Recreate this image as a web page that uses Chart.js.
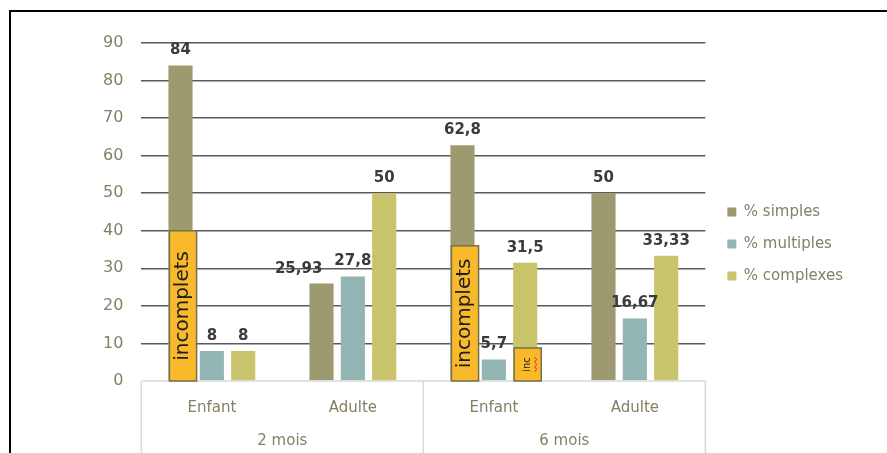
<!DOCTYPE html>
<html><head><meta charset="utf-8">
<script src="https://cdn.jsdelivr.net/npm/chart.js@4.4.1/dist/chart.umd.min.js"></script>
<style>
html,body{margin:0;padding:0;background:#fff;overflow:hidden;}
#wrap{position:relative;width:887px;height:453px;}
#frame{position:absolute;left:9px;top:10px;right:-5px;bottom:-5px;border-left:2px solid #000;border-top:2px solid #000;pointer-events:none;}
canvas{position:absolute;left:0;top:0;}
</style></head><body>
<div id="wrap"><canvas id="c" width="887" height="453"></canvas><div id="frame"></div></div>
<script>
// ---- data ----
const categories = ['Enfant', 'Adulte', 'Enfant', 'Adulte'];
const groups = ['2 mois', '6 mois'];
const seriesNames = ['% simples', '% multiples', '% complexes'];
const simples = [84, 25.93, 62.8, 50];
const multiples = [8, 27.8, 5.7, 16.67];
const complexes = [8, 50, 31.5, 33.33];
const incompletsSimples = [40, null, 36, null];
const incompletsComplexes = [null, null, 8.8, null];
const yMin = 0, yMax = 90, yStep = 10;

// ---- styles ----
const FONT = 'DejaVu Sans';
const axisColor = '#857f64';
const colors = ['#9d9a6f', '#93b5b4', '#c9c46b'];
const boxFill = '#f8b92b', boxStroke = '#74704f';
const labelColor = '#3b3b3b';

const fmt = v => String(v).replace('.', ',');

const overlay = {
  id: 'overlay',
  afterDatasetsDraw(chart) {
    const ctx = chart.ctx, ca = chart.chartArea;
    const xs = chart.scales.x, ys = chart.scales.y;
    // category box lines
    ctx.save();
    ctx.strokeStyle = '#d9d9d9'; ctx.lineWidth = 1.5;
    ctx.beginPath();
    ctx.moveTo(ca.left, ca.bottom); ctx.lineTo(ca.right, ca.bottom);
    const mid = (xs.getPixelForValue(1) + xs.getPixelForValue(2)) / 2;
    [ca.left, mid, ca.right].forEach(x => { ctx.moveTo(x, ca.bottom); ctx.lineTo(x, chart.height); });
    ctx.stroke();
    ctx.restore();

    // "incomplets" boxes
    const drawBox = (dsIndex, arr, text, size, squiggle) => {
      const meta = chart.getDatasetMeta(dsIndex);
      arr.forEach((v, i) => {
        if (v == null) return;
        const bar = meta.data[i];
        const l = bar.x - bar.width / 2 + 1, r = bar.x + bar.width / 2 + 4;
        const t = ys.getPixelForValue(v), b = ys.getPixelForValue(0);
        ctx.save();
        ctx.fillStyle = boxFill; ctx.strokeStyle = boxStroke; ctx.lineWidth = 1.5;
        ctx.fillRect(l, t, r - l, b - t); ctx.strokeRect(l, t, r - l, b - t);
        ctx.translate((l + r) / 2, (t + b) / 2);
        ctx.rotate(-Math.PI / 2);
        ctx.fillStyle = '#1e1e1e';
        ctx.font = size + 'px "' + FONT + '"';
        ctx.textAlign = 'center'; ctx.textBaseline = 'middle';
        ctx.fillText(text, 0, 0);
        if (squiggle) {
          const w = ctx.measureText(text).width;
          ctx.strokeStyle = '#e02020'; ctx.lineWidth = 1;
          ctx.beginPath();
          for (let k = 0; k <= 6; k++) {
            const xx = -w / 2 + k * w / 6, yy = 7 + (k % 2 ? 2 : 0);
            k ? ctx.lineTo(xx, yy) : ctx.moveTo(xx, yy);
          }
          ctx.stroke();
        }
        ctx.restore();
      });
    };
    drawBox(0, incompletsSimples, 'incomplets', 20, false);
    drawBox(2, incompletsComplexes, 'inc', 10, true);

    // value labels
    ctx.save();
    ctx.font = 'bold 15px "' + FONT + '"';
    ctx.fillStyle = labelColor;
    ctx.textAlign = 'center'; ctx.textBaseline = 'middle';
    const labels = [];
    chart.data.datasets.forEach((ds, di) => {
      const meta = chart.getDatasetMeta(di);
      ds.data.forEach((v, i) => {
        const bar = meta.data[i];
        const text = fmt(v);
        const w = ctx.measureText(text).width;
        labels.push({di, i, text, w, x: bar.x, y: bar.y - 15});
      });
    });
    // simple collision avoidance within a category: shift the left label left
    for (let i = 0; i < categories.length; i++) {
      const row = labels.filter(l => l.i === i).sort((a, b) => b.di - a.di);
      for (let k = 1; k < row.length; k++) {
        const cur = row[k], right = row[k - 1];
        if (Math.abs(cur.y - right.y) < 16) {
          const overlapR = cur.x + cur.w / 2, leftEdge = right.x - right.w / 2 - 12;
          if (overlapR > leftEdge) cur.x -= (overlapR - leftEdge);
        }
      }
    }
    labels.forEach(l => ctx.fillText(l.text, l.x, l.y));
    ctx.restore();
  }
};

new Chart(document.getElementById('c'), {
  type: 'bar',
  data: {
    labels: categories,
    datasets: [
      {label: seriesNames[0], data: simples, backgroundColor: colors[0]},
      {label: seriesNames[1], data: multiples, backgroundColor: colors[1]},
      {label: seriesNames[2], data: complexes, backgroundColor: colors[2]}
    ]
  },
  options: {
    responsive: false,
    animation: false,
    devicePixelRatio: 1,
    categoryPercentage: 0.667,
    barPercentage: 0.77,
    layout: {padding: {top: 43, bottom: 0, left: 85, right: 34}},
    scales: {
      x: {
        weight: 0, offset: true,
        grid: {display: false, drawTicks: false}, border: {display: false},
        ticks: {color: axisColor, font: {family: FONT, size: 15}, padding: 18},
        afterFit: s => { s.height = 36; }
      },
      x2: {
        type: 'category', labels: groups, position: 'bottom', weight: 1, offset: true,
        grid: {display: false, drawTicks: false}, border: {display: false},
        ticks: {color: axisColor, font: {family: FONT, size: 15}, padding: 15},
        afterFit: s => { s.height = 36; }
      },
      y: {
        min: yMin, max: yMax,
        ticks: {stepSize: yStep, color: axisColor, font: {family: FONT, size: 16}, padding: 18},
        grid: {color: c => c.tick && c.tick.value === 0 ? 'rgba(0,0,0,0)' : '#5a5a5a', lineWidth: 1.5, drawTicks: false},
        border: {display: false}
      },
      gap: {
        type: 'linear', axis: 'y', position: 'right', display: true,
        grid: {display: false, drawTicks: false}, border: {display: false}, ticks: {display: false},
        afterFit: s => { s.width = 5; }
      }
    },
    plugins: {
      legend: {
        position: 'right',
        maxWidth: 170,
        title: {display: true, text: '', padding: {top: -22.4, bottom: 0}},
        labels: {boxWidth: 9, boxHeight: 9, padding: 17, color: axisColor, font: {family: FONT, size: 15}}
      },
      tooltip: {enabled: false}
    }
  },
  plugins: [overlay]
});
</script>
</body></html>
